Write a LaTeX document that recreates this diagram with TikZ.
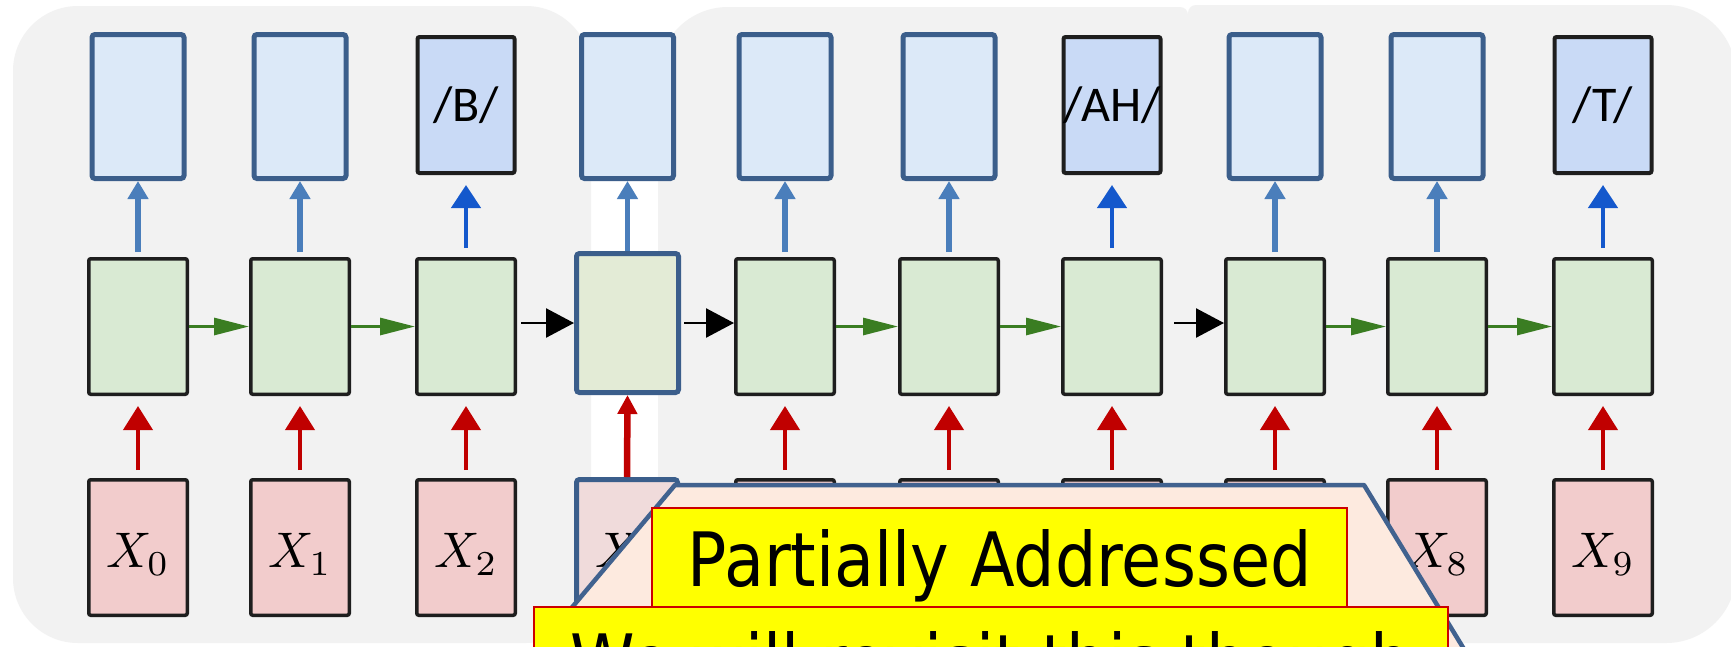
\documentclass[tikz,border=0pt]{standalone}
\usepackage{fontspec}
\usepackage{graphicx}
\setmainfont{Carlito}
\newfontfamily\comicfont[FakeStretch=0.87]{DejaVu Sans}
\usetikzlibrary{arrows.meta}
\definecolor{panelgray}{HTML}{F2F2F2}
\definecolor{bordblue}{HTML}{3B5E8B}
\definecolor{outfill}{HTML}{DCE9F8}
\definecolor{phfill}{HTML}{C9DAF6}
\definecolor{boxblack}{HTML}{1E1E1E}
\definecolor{hidfill}{HTML}{D9EAD3}
\definecolor{hidhlfill}{HTML}{E3EBD6}
\definecolor{infill}{HTML}{F2CCCC}
\definecolor{inhlfill}{HTML}{F0DBDB}
\definecolor{arrblue}{HTML}{4A7EBB}
\definecolor{arrdblue}{HTML}{1458CC}
\definecolor{arrred}{HTML}{C00000}
\definecolor{arrgreen}{HTML}{3A7D22}
\definecolor{trapfill}{HTML}{FDEADF}
\definecolor{trapline}{HTML}{41628F}
\definecolor{noteyellow}{HTML}{FFFF00}
\definecolor{notered}{HTML}{CC0000}
\newcommand{\phfont}{\fontsize{50}{60}\selectfont}
\newcommand{\notefont}{\comicfont\fontsize{75}{90}\selectfont}
\newcommand{\xlab}[1]{\scalebox{5}{$X_{#1}$}}
\tikzset{
  outbox/.style={draw=bordblue, line width=5pt, fill=outfill, rounded corners=3pt, minimum width=92pt, minimum height=144pt, inner sep=0pt},
  phbox/.style={draw=boxblack, line width=4pt, fill=phfill, rounded corners=2pt, minimum width=97pt, minimum height=136pt, inner sep=0pt, font=\phfont},
  hidbox/.style={draw=boxblack, line width=3.5pt, fill=hidfill, rounded corners=2pt, minimum width=98.5pt, minimum height=135.5pt, inner sep=0pt},
  hidhl/.style={draw=bordblue, line width=5pt, fill=hidhlfill, rounded corners=3pt, minimum width=102pt, minimum height=139pt, inner sep=0pt},
  inbox/.style={draw=boxblack, line width=3.5pt, fill=infill, rounded corners=2pt, minimum width=98.5pt, minimum height=135.5pt, inner sep=0pt, text height=40pt, text depth=0pt},
  inhl/.style={draw=bordblue, line width=5pt, fill=inhlfill, rounded corners=3pt, minimum width=101pt, minimum height=136pt, inner sep=0pt, text height=40pt, text depth=0pt},
  outarr/.style={draw=arrblue, line width=5.5pt, -{Triangle[length=18pt,width=20pt]}},
  pharr/.style={draw=arrdblue, line width=4.5pt, -{Triangle[length=23pt,width=29pt]}, shorten <=9pt, shorten >=10pt},
  inarr/.style={draw=arrred, line width=4pt, -{Triangle[length=24pt,width=29pt]}, shorten <=8pt, shorten >=10pt},
  inhlarr/.style={draw=arrred, line width=6.5pt, -{Triangle[length=19pt,width=19pt]}},
  recg/.style={draw=arrgreen, line width=3pt, -{Triangle[length=35pt,width=17pt]}},
  recb/.style={draw=black, line width=2.5pt, -{Triangle[length=28pt,width=29pt]}},
  notebox/.style={draw=notered, line width=2pt, fill=noteyellow, inner sep=0pt, font=\notefont, text=black},
}
\begin{document}
\begin{tikzpicture}[x=1pt,y=-1pt]
\useasboundingbox (0,0) rectangle (1731,646);
\clip (0,0) rectangle (1731,646);
% background panels
\fill[white] (0,0) rectangle (1731,646);
\fill[panelgray, rounded corners=65pt] (13,6) rectangle (591,643);
\fill[panelgray, rounded corners=70pt] (658,7) rectangle (1188,643);
\fill[panelgray, rounded corners=8pt] (900,7) rectangle (1188,643);
\fill[panelgray, rounded corners=70pt] (1188,5) rectangle (1736,643);
\fill[panelgray, rounded corners=8pt] (1188,5) rectangle (1450,643);
% output boxes
\node[outbox] (o0) at (138,106.5) {};
\node[outbox] (o1) at (300,106.5) {};
\node[phbox]  (o2) at (466,105) {/B/};
\node[outbox] (o3) at (627.5,106.5) {};
\node[outbox] (o4) at (785,106.5) {};
\node[outbox] (o5) at (949,106.5) {};
\node[phbox]  (o6) at (1112,105) {/AH/};
\node[outbox] (o7) at (1275,106.5) {};
\node[outbox] (o8) at (1437,106.5) {};
\node[phbox]  (o9) at (1603,105) {/T/};
% hidden boxes
\node[hidbox] (h0) at (138,326.5) {};
\node[hidbox] (h1) at (300,326.5) {};
\node[hidbox] (h2) at (466,326.5) {};
\node[hidhl]  (h3) at (627.5,323) {};
\node[hidbox] (h4) at (785,326.5) {};
\node[hidbox] (h5) at (949,326.5) {};
\node[hidbox] (h6) at (1112,326.5) {};
\node[hidbox] (h7) at (1275,326.5) {};
\node[hidbox] (h8) at (1437,326.5) {};
\node[hidbox] (h9) at (1603,326.5) {};
% input boxes
\node[inbox] (x0) at (138,547.5) {\xlab{0}};
\node[inbox] (x1) at (300,547.5) {\xlab{1}};
\node[inbox] (x2) at (466,547.5) {\xlab{2}};
\node[inhl]  (x3) at (627,547.5) {\xlab{3}};
\node[inbox] (x4) at (785,547.5) {};
\node[inbox] (x5) at (949,547.5) {};
\node[inbox] (x6) at (1112,547.5) {};
\node[inbox] (x7) at (1275,547.5) {};
\node[inbox] (x8) at (1437,547.5) {\xlab{8}};
\node[inbox] (x9) at (1603,547.5) {\xlab{9}};
% hidden -> output
\foreach \i in {0,1,4,5,7,8} \draw[outarr, shorten <=5pt] (h\i.north) -- (o\i.south);
\draw[outarr] (h3.north) -- (o3.south);
\foreach \i in {2,6,9} \draw[pharr] (h\i.north) -- (o\i.south);
% input -> hidden
\foreach \i in {0,1,2,4,5,6,7,8,9} \draw[inarr] (x\i.north) -- (h\i.south);
\draw[inhlarr] (x3.north) -- (h3.south);
% recurrent connections
\foreach \a/\b in {0/1,1/2,4/5,5/6,7/8,8/9} \draw[recg] (h\a.east) -- (h\b.west);
\draw[recb, shorten <=4pt] (h2.east |- h3) -- (h3.west);
\draw[recb, shorten <=3pt] (h3.east) -- (h4.west |- h3);
\draw[recb, shorten <=11pt] (h6.east |- h3) -- (h7.west |- h3);
% callout
\filldraw[fill=trapfill, draw=trapline, line width=4.5pt, line join=round] (675,485) -- (1364,485) -- (1495,700) -- (494,700) -- cycle;
\node[notebox, anchor=north west, minimum width=695pt, text height=78pt, text depth=21pt] (n1) at (651,507) {Partially Addressed};
\node[notebox, anchor=north west, minimum width=914pt, text height=81pt, text depth=40pt] (n2) at (533,606) {We will revisit this though};
\end{tikzpicture}
\end{document}
